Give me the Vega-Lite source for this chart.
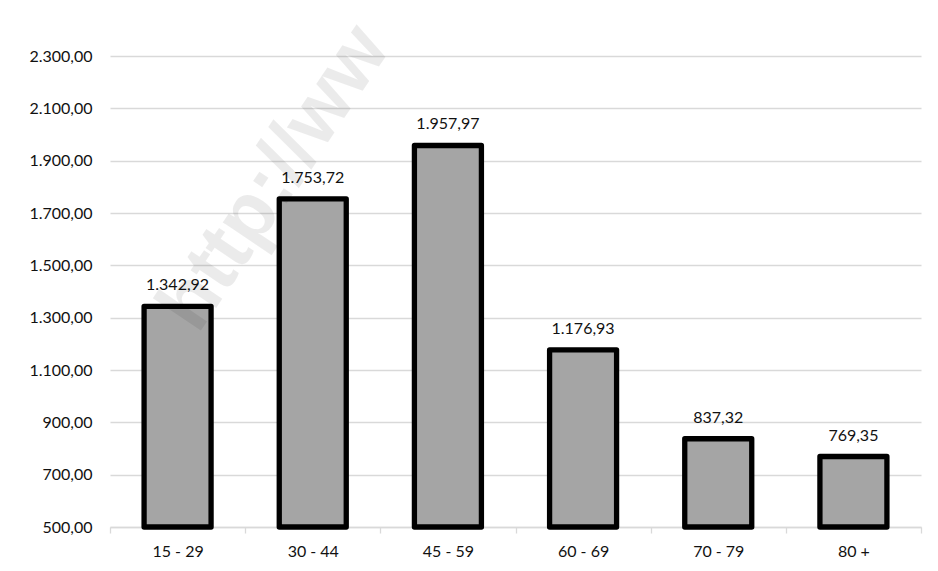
{
  "$schema": "https://vega.github.io/schema/vega-lite/v6.json",
  "width": 811,
  "height": 471,
  "autosize": "none",
  "padding": {"left": 110, "top": 56, "right": 17, "bottom": 44},
  "background": "white",
  "config": {
    "locale": {
      "number": {"decimal": ",", "thousands": ".", "grouping": [3], "currency": ["", " €"]}
    },
    "view": {"stroke": null},
    "font": "Lato"
  },
  "datasets": {
    "income": [
      {"group": "15 - 29", "value": 1342.92},
      {"group": "30 - 44", "value": 1753.72},
      {"group": "45 - 59", "value": 1957.97},
      {"group": "60 - 69", "value": 1176.93},
      {"group": "70 - 79", "value": 837.32},
      {"group": "80 +", "value": 769.35}
    ],
    "stamp": [
      {"note": "http://ww"}
    ]
  },
  "data": {"name": "income"},
  "encoding": {
    "x": {
      "field": "group",
      "type": "nominal",
      "sort": null,
      "scale": {"paddingInner": 0, "paddingOuter": 0},
      "axis": {
        "title": null,
        "labelAngle": 0,
        "domainColor": "#D9D9D9",
        "domainWidth": 1.3,
        "tickColor": "#D9D9D9",
        "tickWidth": 1.3,
        "tickSize": 6,
        "tickBand": "extent",
        "labelPadding": 10,
        "labelFont": "Lato",
        "labelFontSize": 16,
        "labelColor": "#111111"
      }
    }
  },
  "layer": [
    {
      "mark": {
        "type": "bar",
        "size": 67,
        "fill": "#A5A5A5",
        "stroke": "#000000",
        "strokeWidth": 5.3,
        "strokeJoin": "round"
      },
      "encoding": {
        "y": {
          "field": "value",
          "type": "quantitative",
          "scale": {"domain": [500, 2300], "zero": false, "nice": false},
          "axis": {
            "title": null,
            "values": [500, 700, 900, 1100, 1300, 1500, 1700, 1900, 2100, 2300],
            "format": ",.2f",
            "domain": false,
            "ticks": false,
            "tickSize": 0,
            "labelPadding": 18,
            "gridColor": "#D9D9D9",
            "gridWidth": 1.3,
            "labelFont": "Lato",
            "labelFontSize": 16,
            "labelColor": "#111111"
          }
        },
        "y2": {"datum": 500}
      }
    },
    {
      "mark": {
        "type": "text",
        "dy": -16,
        "baseline": "alphabetic",
        "fontSize": 16,
        "font": "Lato",
        "fill": "#111111"
      },
      "encoding": {
        "y": {"field": "value", "type": "quantitative"},
        "text": {"field": "value", "type": "quantitative", "format": ",.2f"}
      }
    },
    {
      "data": {"name": "stamp"},
      "mark": {
        "type": "text",
        "angle": -56,
        "align": "left",
        "baseline": "alphabetic",
        "dx": 36,
        "font": "Liberation Sans",
        "fontWeight": "bold",
        "fontSize": 80,
        "fill": "#000000",
        "fillOpacity": 0.08
      },
      "encoding": {
        "x": {"datum": "15 - 29"},
        "y": {"datum": 1119},
        "text": {"field": "note", "type": "nominal"}
      }
    }
  ]
}
